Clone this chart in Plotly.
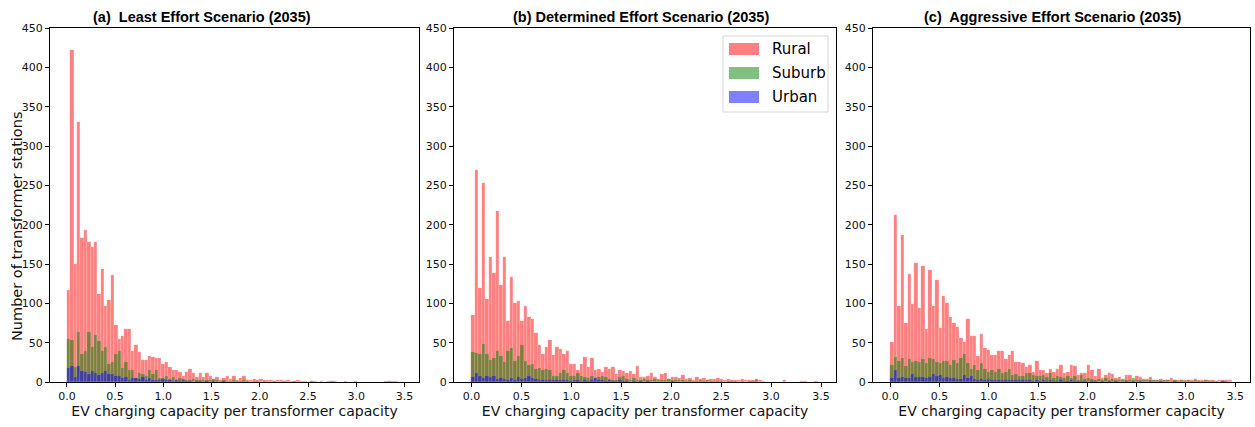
import numpy as np
import plotly.graph_objects as go

# Histogram bins shared by all panels
BIN_START = 0.0
BIN_WIDTH = 0.035

SCENARIO_TITLES = [
    "(a)  Least Effort Scenario (2035)",
    "(b) Determined Effort Scenario (2035)",
    "(c)  Aggressive Effort Scenario (2035)",
]
AREA_NAMES = ["Rural", "Suburb", "Urban"]
X_TICKS = [0.0, 0.5, 1.0, 1.5, 2.0, 2.5, 3.0, 3.5]
Y_TICKS = [0, 50, 100, 150, 200, 250, 300, 350, 400, 450]

# Station counts per bin, least effort scenario
rural_a = [
    117, 422, 150, 330, 183, 193, 178, 172, 178, 112,
    144, 96, 104, 136, 72, 55, 59, 67, 67, 40,
    47, 38, 28, 28, 33, 32, 30, 30, 23, 25,
    19, 15, 15, 13, 8, 13, 17, 11, 6, 11,
    6, 11, 8, 4, 6, 3, 5, 7, 4, 8,
    3, 5, 7, 3, 3, 4, 3, 4, 3, 2,
    3, 1, 2, 2, 1, 2, 1, 1, 2, 1,
    1, 0, 1, 1, 0, 1, 0, 1, 0, 1,
    0, 0, 1, 0, 0, 0, 0, 0, 0, 0,
    0, 0, 0, 0, 1, 0, 0, 1, 0, 0,
]
suburb_a = [
    55, 54, 19, 63, 35, 40, 63, 45, 60, 52,
    40, 45, 23, 25, 36, 40, 18, 25, 15, 15,
    5, 12, 10, 8, 15, 10, 15, 5, 5, 8,
    4, 6, 3, 5, 4, 3, 2, 4, 3, 2,
    3, 2, 2, 4, 2, 1, 2, 1, 1, 2,
    1, 1, 2, 1, 0, 1, 1, 0, 1, 0,
    0, 1, 0, 0, 1, 0, 0, 1, 0, 0,
    0, 0, 1, 0, 0, 0, 0, 0, 0, 0,
    0, 0, 0, 0, 0, 1, 0, 0, 0, 0,
    0, 0, 0, 0, 0, 0, 1, 0, 0, 0,
]
urban_a = [
    18, 20, 6, 20, 14, 13, 10, 14, 12, 9,
    12, 14, 10, 10, 8, 8, 5, 6, 3, 5,
    5, 4, 6, 3, 5, 3, 2, 3, 4, 2,
    2, 1, 2, 1, 2, 1, 1, 0, 1, 1,
    0, 1, 0, 1, 0, 0, 1, 0, 0, 0,
    0, 0, 0, 0, 0, 0, 0, 0, 0, 0,
    0, 0, 0, 0, 0, 0, 0, 0, 0, 0,
    0, 0, 0, 0, 0, 0, 0, 0, 1, 0,
    0, 0, 0, 0, 0, 0, 0, 0, 0, 0,
    0, 0, 0, 0, 0, 1, 0, 0, 0, 0,
]

# Station counts per bin, determined effort scenario
rural_b = [
    85, 269, 120, 253, 105, 159, 138, 217, 123, 159,
    78, 133, 100, 103, 78, 96, 83, 80, 62, 47,
    36, 44, 54, 34, 44, 42, 35, 40, 23, 23,
    15, 23, 32, 19, 31, 15, 16, 13, 19, 17,
    19, 10, 15, 14, 11, 14, 10, 20, 6, 6,
    7, 11, 6, 4, 10, 11, 4, 6, 6, 5,
    9, 4, 5, 3, 6, 4, 5, 3, 4, 4,
    5, 4, 3, 4, 3, 2, 3, 4, 3, 2,
    3, 4, 2, 1, 0, 0, 0, 0, 0, 2,
    0, 0, 0, 0, 1, 1, 0, 0, 1, 0,
]
suburb_b = [
    38, 37, 36, 48, 35, 28, 31, 40, 33, 25,
    39, 43, 27, 33, 47, 27, 21, 23, 17, 18,
    15, 16, 15, 8, 8, 11, 15, 11, 7, 7,
    11, 7, 6, 5, 7, 5, 6, 8, 6, 4,
    3, 3, 6, 8, 4, 3, 5, 2, 3, 4,
    3, 2, 4, 2, 3, 2, 4, 3, 2, 2,
    2, 1, 2, 1, 1, 2, 1, 2, 1, 1,
    1, 1, 0, 1, 1, 1, 0, 1, 0, 1,
    1, 2, 0, 0, 0, 0, 0, 0, 0, 0,
    0, 0, 0, 0, 0, 0, 0, 0, 0, 0,
]
urban_b = [
    6, 11, 7, 5, 7, 6, 8, 4, 5, 4,
    3, 5, 3, 6, 4, 5, 7, 5, 4, 3,
    3, 2, 3, 2, 3, 2, 2, 3, 1, 2,
    2, 1, 3, 1, 2, 5, 3, 2, 1, 2,
    1, 1, 2, 1, 1, 0, 1, 0, 1, 0,
    1, 0, 0, 0, 0, 0, 0, 1, 0, 0,
    0, 0, 0, 0, 0, 0, 0, 0, 0, 0,
    0, 0, 0, 0, 0, 0, 0, 0, 0, 0,
    0, 0, 0, 0, 0, 0, 0, 0, 0, 0,
    0, 0, 0, 0, 0, 0, 0, 0, 0, 0,
]

# Station counts per bin, aggressive effort scenario
rural_c = [
    51, 212, 96, 187, 75, 137, 99, 151, 94, 147,
    67, 142, 96, 130, 69, 109, 100, 82, 75, 70,
    56, 51, 80, 59, 59, 33, 61, 43, 41, 34,
    34, 39, 39, 29, 34, 40, 26, 25, 24, 19,
    22, 13, 27, 15, 15, 12, 16, 13, 16, 22,
    12, 13, 22, 20, 9, 12, 12, 22, 15, 7,
    16, 5, 9, 12, 10, 5, 6, 3, 9, 9,
    3, 8, 6, 4, 4, 6, 3, 3, 4, 3,
    3, 5, 3, 2, 2, 3, 3, 2, 4, 2,
    3, 2, 2, 3, 1, 2, 2, 3, 3, 0,
]
suburb_c = [
    22, 32, 27, 31, 20, 29, 25, 27, 26, 29,
    24, 30, 29, 26, 24, 27, 27, 22, 28, 24,
    30, 36, 24, 17, 22, 15, 24, 16, 13, 15,
    13, 16, 12, 13, 17, 9, 10, 7, 8, 11,
    12, 9, 7, 7, 9, 6, 12, 5, 8, 6,
    5, 7, 5, 7, 3, 9, 4, 5, 4, 3,
    4, 3, 5, 3, 4, 2, 3, 4, 2, 3,
    5, 2, 3, 2, 3, 2, 2, 3, 1, 2,
    2, 1, 3, 1, 2, 1, 3, 1, 2, 1,
    1, 2, 1, 1, 1, 0, 1, 1, 0, 0,
]
urban_c = [
    5, 15, 5, 6, 5, 5, 10, 6, 6, 6,
    5, 6, 10, 7, 9, 5, 6, 5, 5, 4,
    4, 9, 5, 7, 4, 3, 4, 3, 4, 3,
    3, 2, 3, 2, 3, 2, 2, 3, 2, 2,
    2, 1, 2, 1, 2, 1, 2, 1, 1, 2,
    1, 1, 3, 1, 1, 1, 1, 0, 1, 1,
    0, 1, 0, 1, 0, 1, 0, 0, 1, 0,
    1, 0, 1, 0, 0, 1, 0, 0, 1, 0,
    0, 0, 1, 0, 0, 0, 0, 0, 0, 0,
    0, 0, 0, 0, 0, 0, 1, 0, 0, 0,
]

panels = [
    (rural_a, suburb_a, urban_a),
    (rural_b, suburb_b, urban_b),
    (rural_c, suburb_c, urban_c),
]

# Styling
W, H = 1255, 427
M_L, M_R, M_T, M_B = 50, 5, 28, 45
PLOT_W = W - M_L - M_R
PLOT_H = H - M_T - M_B
PANEL_PX = [(50, 419), (454, 836), (873, 1250)]
TITLE_CX = [202, 641, 1052]
FILLS = ["rgb(255,0,0)", "rgb(0,128,0)", "rgb(0,0,255)"]
PATCH_FILLS = ["#ff8080", "#80c080", "#8080ff"]
TICK_FONT = dict(family="DejaVu Sans", size=11, color="#111")
LABEL_FONT = dict(family="DejaVu Sans", size=14, color="#111")


def px_x(x):
    return (x - M_L) / PLOT_W


def px_y(y):
    return (M_T + PLOT_H - y) / PLOT_H


fig = go.Figure()

for p, series in enumerate(panels):
    xa = "x" if p == 0 else f"x{p + 1}"
    ya = "y" if p == 0 else f"y{p + 1}"
    for name, counts, fill in zip(AREA_NAMES, series, FILLS):
        counts = np.asarray(counts)
        centers = BIN_START + BIN_WIDTH * (np.arange(len(counts)) + 0.5)
        fig.add_trace(go.Bar(
            x=centers, y=counts, width=BIN_WIDTH, name=name,
            marker=dict(color=fill, line=dict(color="rgba(255,255,255,0.45)", width=0.3)),
            opacity=0.5, showlegend=False, xaxis=xa, yaxis=ya,
            hovertemplate=name + ": %{y}<extra></extra>",
        ))

layout_axes = {}
for p, (x0, x1) in enumerate(PANEL_PX):
    sfx = "" if p == 0 else str(p + 1)
    layout_axes[f"xaxis{sfx}"] = dict(
        domain=[px_x(x0), px_x(x1)], range=[-0.175, 3.65],
        tickvals=X_TICKS, ticktext=[f"{v:.1f}" for v in X_TICKS],
        ticks="outside", ticklen=4, tickwidth=1, tickcolor="black",
        showline=True, linecolor="black", linewidth=1.2, mirror=True,
        showgrid=False, zeroline=False, tickfont=TICK_FONT,
        anchor="y" if p == 0 else f"y{p + 1}",
        title=dict(text="EV charging capacity per transformer capacity",
                   font=LABEL_FONT, standoff=2),
    )
    layout_axes[f"yaxis{sfx}"] = dict(
        domain=[0, 1], range=[0, 450], tickvals=Y_TICKS,
        ticks="outside", ticklen=4, tickwidth=1, tickcolor="black",
        showline=True, linecolor="black", linewidth=1.2, mirror=True,
        showgrid=False, zeroline=False, tickfont=TICK_FONT,
        anchor="x" if p == 0 else f"x{p + 1}",
    )

annotations = [dict(
    text="Number of transformer stations", x=px_x(17), y=px_y(227),
    xref="paper", yref="paper", xanchor="center", yanchor="middle",
    textangle=-90, showarrow=False,
    font=dict(family="DejaVu Sans", size=14.5, color="#111"),
)]
for title, cx in zip(SCENARIO_TITLES, TITLE_CX):
    annotations.append(dict(
        text=f"<b>{title}</b>", x=px_x(cx), y=px_y(17), xref="paper", yref="paper",
        xanchor="center", yanchor="middle", showarrow=False,
        font=dict(family="Liberation Sans", size=14.5, color="black"),
    ))

# Legend drawn in the middle panel's upper-right corner
shapes = [dict(
    type="rect", xref="paper", yref="paper",
    x0=px_x(723), x1=px_x(828), y0=px_y(112), y1=px_y(36),
    line=dict(color="#d6d6d6", width=1), fillcolor="rgba(255,255,255,0.8)", layer="above",
)]
for k, (name, col) in enumerate(zip(AREA_NAMES, PATCH_FILLS)):
    top = 43 + 24 * k
    shapes.append(dict(
        type="rect", xref="paper", yref="paper",
        x0=px_x(729), x1=px_x(759), y0=px_y(top + 12), y1=px_y(top),
        line=dict(width=0), fillcolor=col, layer="above",
    ))
    annotations.append(dict(
        text=name, x=px_x(770), y=px_y(top + 6), xref="paper", yref="paper",
        xanchor="left", yanchor="middle", showarrow=False,
        font=dict(family="DejaVu Sans", size=15, color="black"),
    ))

fig.update_layout(
    width=W, height=H,
    margin=dict(l=M_L, r=M_R, t=M_T, b=M_B, autoexpand=False),
    paper_bgcolor="white", plot_bgcolor="white",
    barmode="overlay", bargap=0,
    annotations=annotations, shapes=shapes,
    **layout_axes,
)

fig.write_html("out.html")
